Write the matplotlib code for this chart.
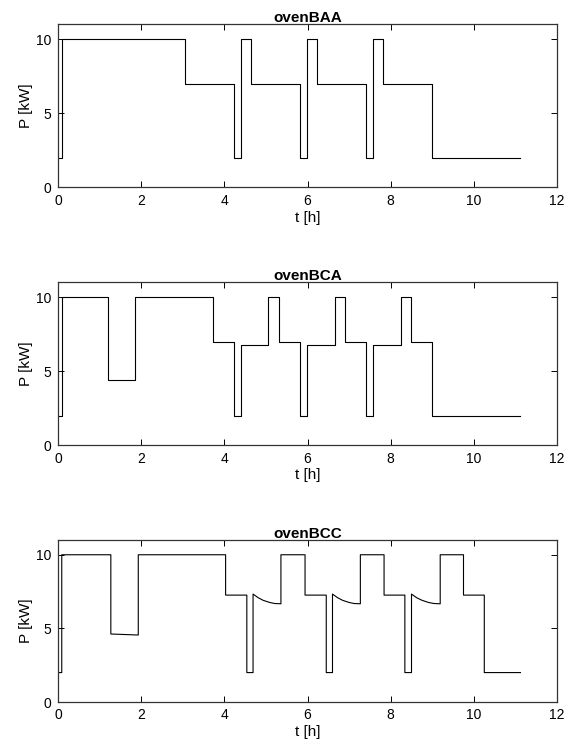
import matplotlib
matplotlib.use('Agg')
import matplotlib.pyplot as plt

plt.rcParams['font.family'] = ['Liberation Sans', 'DejaVu Sans']

# vertices of each power trace (time in h, power in kW); jumps listed twice
t_baa = [0.0, 0.09, 0.09, 3.06, 3.06, 4.22, 4.22, 4.39, 4.39, 4.63, 4.63, 5.82,
         5.82, 5.99, 5.99, 6.23, 6.23, 7.40, 7.40, 7.57, 7.57, 7.82, 7.82, 9.00,
         9.00, 11.12]
p_baa = [2, 2, 10, 10, 7, 7, 2, 2, 10, 10, 7, 7,
         2, 2, 10, 10, 7, 7, 2, 2, 10, 10, 7, 7,
         2, 2]

t_bca = [0.0, 0.09, 0.09, 1.19, 1.19, 1.86, 1.86, 3.73, 3.73, 4.22, 4.22, 4.39,
         4.39, 5.06, 5.06, 5.32, 5.32, 5.82, 5.82, 5.99, 5.99, 6.65, 6.65, 6.90,
         6.90, 7.41, 7.41, 7.58, 7.58, 8.24, 8.24, 8.49, 8.49, 9.00, 9.00, 11.12]
p_bca = [2, 2, 10, 10, 4.43, 4.43, 10, 10, 7, 7, 2, 2,
         6.74, 6.74, 10, 10, 7, 7, 2, 2, 6.74, 6.74, 10, 10,
         7, 7, 2, 2, 6.74, 6.74, 10, 10, 7, 7, 2, 2]

t_bcc = [0.0, 0.09, 0.09, 1.27, 1.27, 1.93, 1.93, 4.03, 4.03, 4.54, 4.54, 4.69,
         4.69, 4.81, 4.93, 5.09, 5.21, 5.36, 5.36, 5.94, 5.94, 6.45, 6.45, 6.60,
         6.60, 6.72, 6.84, 7.00, 7.12, 7.27, 7.27, 7.84, 7.84, 8.34, 8.34, 8.50,
         8.50, 8.62, 8.75, 8.91, 9.04, 9.19, 9.19, 9.75, 9.75, 10.25, 10.25, 11.12]
p_bcc = [2, 2, 10, 10, 4.62, 4.55, 10, 10, 7.26, 7.26, 2, 2,
         7.33, 7.09, 6.91, 6.76, 6.69, 6.67, 10, 10, 7.26, 7.26, 2, 2,
         7.33, 7.09, 6.91, 6.76, 6.69, 6.67, 10, 10, 7.26, 7.26, 2, 2,
         7.33, 7.09, 6.91, 6.76, 6.69, 6.67, 10, 10, 7.26, 7.26, 2, 2]

titles = ['ovenBAA', 'ovenBCA', 'ovenBCC']
traces = [(t_baa, p_baa), (t_bca, p_bca), (t_bcc, p_bcc)]
x_ticks = [0, 2, 4, 6, 8, 10, 12]
y_ticks = [0, 5, 10]

fig = plt.figure(figsize=(5.71, 7.49), dpi=100)
boxes = [[0.1016, 0.7497, 0.874, 0.2179],
         [0.1016, 0.4055, 0.874, 0.2176],
         [0.1016, 0.0627, 0.874, 0.2163]]

for box, title, (t, p) in zip(boxes, titles, traces):
    ax = fig.add_axes(box)
    ax.plot(t, p, color='black', lw=0.8)
    ax.set_xlim(0, 12)
    ax.set_ylim(0, 11)
    ax.set_xticks(x_ticks)
    ax.set_yticks(y_ticks)
    ax.tick_params(direction='in', top=True, right=True, length=4, width=0.7,
                   labelsize=10)
    ax.tick_params(axis='x', pad=4.5)
    ax.tick_params(axis='y', pad=5)
    for s in ax.spines.values():
        s.set_linewidth(0.9)
        s.set_color('#333333')
    ax.set_title(title, fontsize=11, fontweight='bold', pad=1.5)
    ax.set_xlabel('t [h]', fontsize=11, labelpad=2)
    ax.set_ylabel('P [kW]', fontsize=11, labelpad=2)

fig.savefig('out.png', dpi=100)
